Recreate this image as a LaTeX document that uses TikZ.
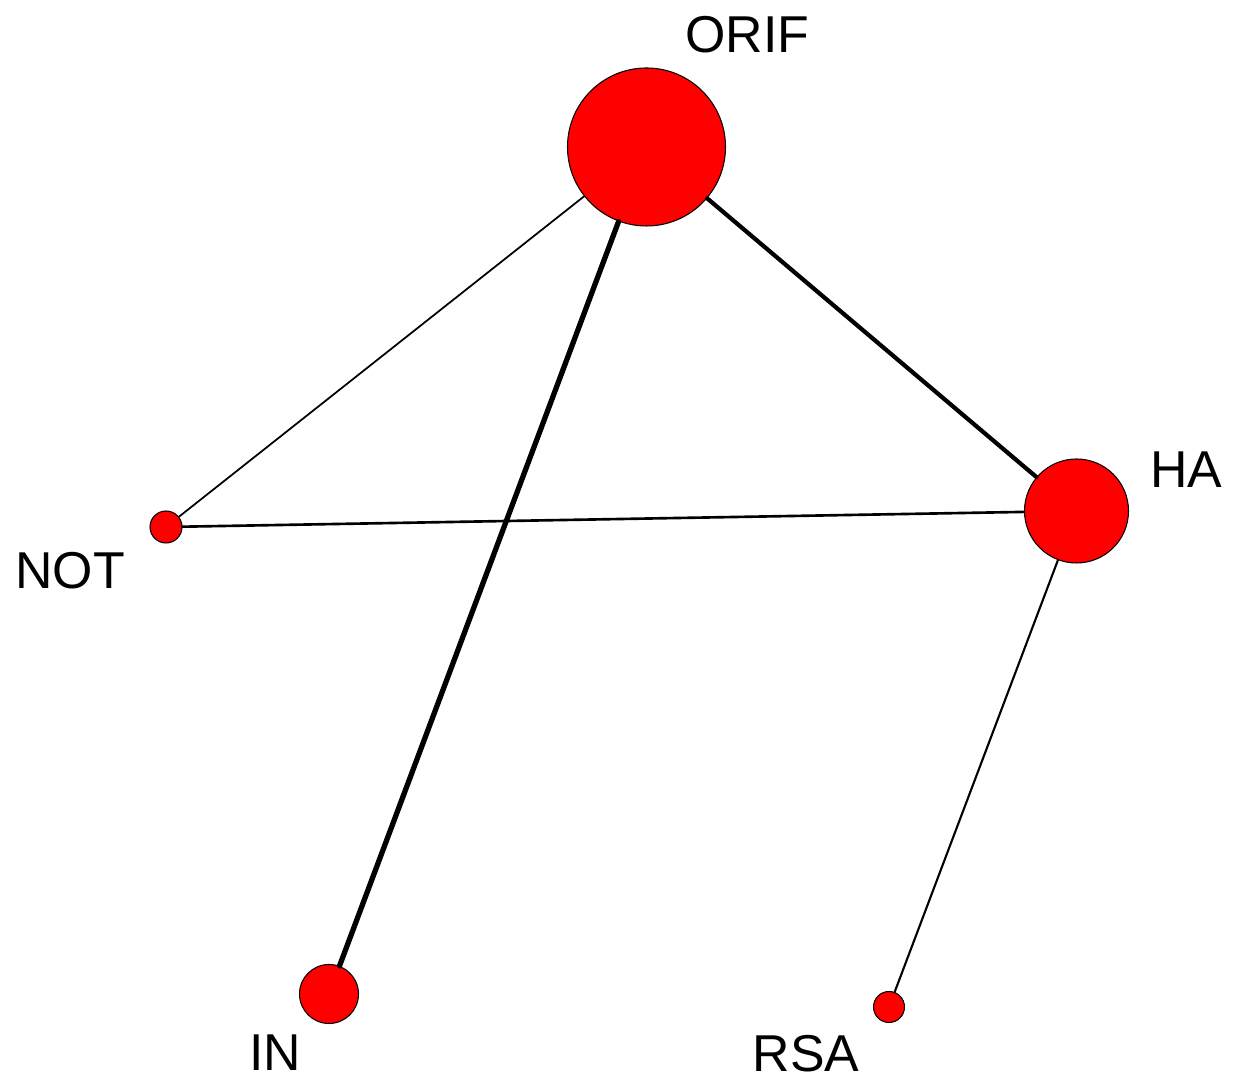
\documentclass[tikz,border=0pt]{standalone}
\usepackage{fontspec}
\setmainfont{Liberation Sans}
\usepackage{tikz}
\usetikzlibrary{positioning}

\begin{document}
\begin{tikzpicture}[
          trt/.style={
              circle,
              draw=black,
              fill=red,
              line width=0.6pt,
              inner sep=0pt
            },
          lbl/.style={
              font=\fontsize{29.5}{32}\selectfont,
              inner sep=0pt
            },
          lnk/.style={draw=black, line cap=round}
        ]
        \useasboundingbox (0,0) rectangle (24.76,21.66);
        % treatments
        \node[trt, minimum size=3.16cm] (orif) at (12.93,18.72) {};
        \node[trt, minimum size=2.08cm] (ha) at (21.53,11.44) {};
        \node[trt, minimum size=0.64cm] (not) at (3.32,11.12) {};
        \node[trt, minimum size=1.18cm] (in) at (6.58,1.78) {};
        \node[trt, minimum size=0.62cm] (rsa) at (17.78,1.52) {};
        % labels
        \node[lbl] (orifl) at (14.95,20.96) {ORIF};
        \node[lbl] (hal) at (23.72,12.26) {HA};
        \node[lbl] (notl) at (1.40,10.24) {NOT};
        \node[lbl] (inl) at (5.50,0.6) {IN};
        \node[lbl] (rsal) at (16.12,0.58) {RSA};
        % comparisons
        \draw[lnk, line width=1pt] (orif) -- (not);
        \draw[lnk, line width=3pt] (orif) -- (in);
        \draw[lnk, line width=2.4pt] (orif) -- (ha);
        \draw[lnk, line width=1.5pt] (not) -- (ha);
        \draw[lnk, line width=1.2pt] (ha) -- (rsa);
      \end{tikzpicture}
\end{document}
